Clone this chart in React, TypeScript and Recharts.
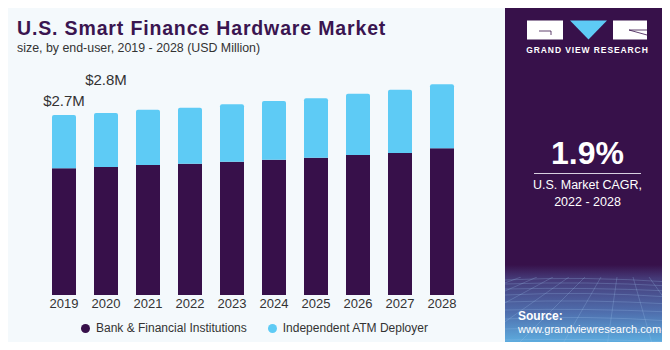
import { BarChart, Bar, XAxis, YAxis, LabelList } from 'recharts'

const YEARS = ['2019', '2020', '2021', '2022', '2023', '2024', '2025', '2026', '2027', '2028']
// USD (2019 total ~ 2.7M)
const BANK = [1.9, 1.92, 1.95, 1.97, 2.0, 2.03, 2.06, 2.1, 2.13, 2.2]
const ATM = [0.8, 0.81, 0.83, 0.84, 0.86, 0.88, 0.89, 0.92, 0.95, 0.96]
const TOTAL_LABELS = ['$2.7M', '$2.8M', '', '', '', '', '', '', '', '']

const DARK = '#37104a'
const CYAN = '#5ecbf5'
const FONT = '"Liberation Sans", Arial, sans-serif'

const data = YEARS.map((year, i) => ({
  year,
  bank: BANK[i],
  atm: ATM[i],
  label: TOTAL_LABELS[i],
}))

// the first label sits just above its bar, the second one is lifted higher
const renderTotal = (props: any) => {
  const { x, y, width, value, index } = props
  if (!value) return null
  const lift = index === 1 ? 28 : 9
  return (
    <text x={x + width / 2} y={y - lift} textAnchor="middle" fontSize={15} fill="#333" fontFamily={FONT}>
      {value}
    </text>
  )
}

function GridFloor() {
  const lines = []
  for (let i = 0; i < 16; i++) {
    const x0 = -40 + i * 16
    const x1 = -260 + i * 46
    lines.push(<line key={`v${i}`} x1={x0 + 40} y1={0} x2={x1 + 40} y2={70} stroke="#9fc4ee" strokeOpacity={0.35} strokeWidth={0.7} />)
  }
  const rows = [3, 7, 12, 18, 25, 33, 42, 52, 63]
  rows.forEach((r, i) => {
    lines.push(<path key={`h${i}`} d={`M0 ${r} Q80 ${r - 4 + (i % 3)} 165 ${r + 2}`} fill="none" stroke="#9fc4ee" strokeOpacity={0.35} strokeWidth={0.7} />)
  })
  return (
    <svg width={165} height={70} style={{ position: 'absolute', left: 0, top: 0 }}>
      {lines}
    </svg>
  )
}

export default function App() {
  return (
    <div style={{ position: 'relative', width: 670, height: 350, margin: -8, background: '#f4f9fc', fontFamily: FONT, overflow: 'hidden' }}>
      <div style={{ position: 'absolute', left: 0, top: 0, width: 670, height: 5, background: '#5ecbf5' }} />
      <div style={{ position: 'absolute', left: 0, top: 5, width: 1, height: 345, background: '#c8c8c8' }} />
      <div style={{ position: 'absolute', left: 0, top: 347, width: 670, height: 3, background: '#c8c8c8' }} />

      <div style={{ position: 'absolute', left: 17, top: 17, fontSize: 19.5, fontWeight: 'bold', color: '#3a1550', whiteSpace: 'nowrap', letterSpacing: 0.85 }}>
        U.S. Smart Finance Hardware Market
      </div>
      <div style={{ position: 'absolute', left: 17, top: 41, fontSize: 12.4, color: '#333', whiteSpace: 'nowrap' }}>
        size, by end-user, 2019 - 2028 (USD Million)
      </div>

      <div style={{ position: 'absolute', left: 0, top: 0 }}>
        <BarChart width={500} height={350} data={data} margin={{ top: 61.67, right: 37, left: 43, bottom: 35 }}>
          <XAxis
            dataKey="year"
            height={20}
            axisLine={false}
            tickLine={false}
            tickSize={0}
            tickMargin={4}
            interval={0}
            tick={{ fontSize: 13, fill: '#333', fontFamily: FONT }}
          />
          <YAxis hide domain={[0, 3.5]} />
          <Bar dataKey="bank" stackId="a" fill={DARK} barSize={24} isAnimationActive={false} />
          <Bar dataKey="atm" stackId="a" fill={CYAN} barSize={24} radius={[2, 2, 0, 0]} isAnimationActive={false}>
            <LabelList dataKey="label" content={renderTotal} />
          </Bar>
        </BarChart>
      </div>

      <div style={{ position: 'absolute', left: 81, top: 321, display: 'flex', alignItems: 'center', fontSize: 12, color: '#333', whiteSpace: 'nowrap' }}>
        <span style={{ width: 9, height: 9, borderRadius: '50%', background: DARK, display: 'inline-block', marginRight: 6 }} />
        <span>Bank &amp; Financial Institutions</span>
        <span style={{ width: 9, height: 9, borderRadius: '50%', background: CYAN, display: 'inline-block', marginLeft: 21, marginRight: 6 }} />
        <span>Independent ATM Deployer</span>
      </div>

      {/* side panel */}
      <div style={{ position: 'absolute', left: 505, top: 5, width: 165, height: 342, background: 'linear-gradient(180deg, #37114a 0%, #37114a 76%, #453a78 80%, #4f6fae 90%, #5fb6e6 100%)', color: '#fff' }}>
        <div style={{ position: 'absolute', left: 0, top: 272 }}>
          <GridFloor />
        </div>
        <svg width={165} height={40} style={{ position: 'absolute', left: 0, top: 14 }}>
          <rect x={22} y={1.5} width={36} height={19} fill="#fff" />
          <path d="M34 12 H46 V16" stroke="#37114a" strokeWidth={0.8} fill="none" />
          <polygon points="65,1.5 102,1.5 83.5,20.5" fill={CYAN} />
          <rect x={108} y={1.5} width={34} height={19} fill="#fff" />
          <line x1={124} y1={11} x2={142} y2={16} stroke="#37114a" strokeWidth={0.8} />
          <line x1={124} y1={11} x2={142} y2={11} stroke="#37114a" strokeWidth={0.8} />
        </svg>
        <div style={{ position: 'absolute', left: 0, width: 165, top: 40, textAlign: 'center', fontSize: 8.5, fontWeight: 'bold', letterSpacing: 0.9, whiteSpace: 'nowrap' }}>
          GRAND VIEW RESEARCH
        </div>
        <div style={{ position: 'absolute', left: 0, width: 165, top: 130, textAlign: 'center', fontSize: 32, fontWeight: 'bold' }}>1.9%</div>
        <div style={{ position: 'absolute', left: 29, top: 168, width: 107, height: 1, background: '#d8d0e0' }} />
        <div style={{ position: 'absolute', left: 0, width: 165, top: 172, textAlign: 'center', fontSize: 12.5, lineHeight: '17px' }}>
          U.S. Market CAGR,<br />2022 - 2028
        </div>
        <div style={{ position: 'absolute', left: 13, top: 304, fontSize: 12, fontWeight: 'bold' }}>Source:</div>
        <div style={{ position: 'absolute', left: 13, top: 318, fontSize: 11, whiteSpace: 'nowrap' }}>www.grandviewresearch.com</div>
      </div>
    </div>
  )
}
